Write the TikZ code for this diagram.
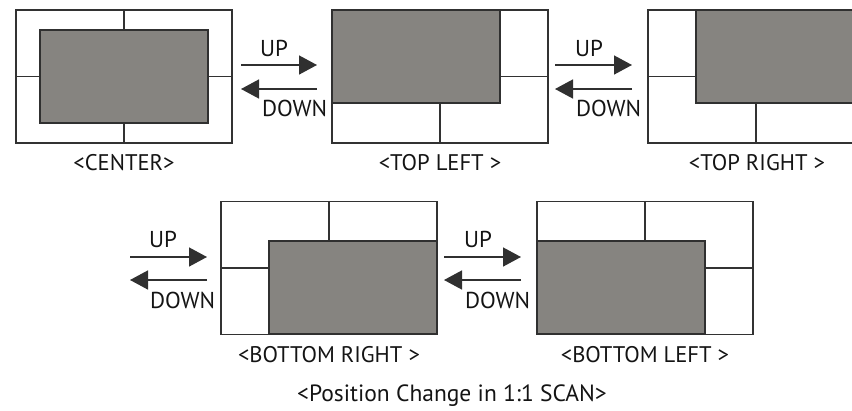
\documentclass[tikz,border=0pt]{standalone}
\usepackage{fontspec}
\setmainfont{PT Sans}
\usepackage{tikz}
\usetikzlibrary{positioning}
\usetikzlibrary{arrows.meta}

\definecolor{picgray}{RGB}{134,132,128}
\definecolor{edgegray}{RGB}{48,48,48}
\definecolor{linegray}{RGB}{50,50,50}
\definecolor{textgray}{RGB}{20,20,20}

\begin{document}
\begin{tikzpicture}[x=1pt, y=-1pt,
                          screenbox/.style={rectangle, draw=linegray, line width=1.5pt, inner sep=0pt, minimum width=216pt, minimum height=133pt},
                          picbox/.style={rectangle, draw=edgegray, fill=picgray, line width=1.8pt, inner sep=0pt, minimum width=168pt, minimum height=93pt},
                          divider/.style={draw=linegray, line width=1.5pt},
                          moveline/.style={draw=edgegray, line width=1.5pt, -{Triangle[length=18pt, width=19pt]}},
                          movetext/.style={inner sep=0pt, anchor=base west, text=textgray, font=\fontsize{23}{27}\selectfont},
                          labeltext/.style={inner sep=0pt, anchor=base, text=textgray, font=\fontsize{22.6}{27}\selectfont},
                          titletext/.style={inner sep=0pt, anchor=base, text=textgray, font=\fontsize{23.5}{28}\selectfont},
                      ]
                      \useasboundingbox (0,0) rectangle (852,410);

                      %Screens
                      \node[screenbox]      (center)        at (124,76.5)   {};
                      \node[screenbox]      (top_left)      at (440,76.5)   {};
                      \node[screenbox]      (top_right)     at (756,76.5)   {};
                      \node[screenbox]      (bottom_right)  at (329,268)    {};
                      \node[screenbox]      (bottom_left)   at (645,268)    {};

                      %Pictures
                      \node[picbox]         (center_pic)        at (center)                                               {};
                      \node[picbox]         (top_left_pic)      [anchor=north west] at (top_left.north west)              {};
                      \node[picbox]         (top_right_pic)     [anchor=north east] at (top_right.north east)             {};
                      \node[picbox]         (bottom_right_pic)  [anchor=south east] at (bottom_right.south east)          {};
                      \node[picbox]         (bottom_left_pic)   [anchor=south west] at (bottom_left.south west)           {};

                      %Dividers
                      \draw[divider] (center.north) -- (center_pic.north);
                      \draw[divider] (center.south) -- (center_pic.south);
                      \draw[divider] (center.west) -- (center_pic.west);
                      \draw[divider] (center.east) -- (center_pic.east);
                      \draw[divider] (top_left.east) -- (top_left_pic.east |- top_left.east);
                      \draw[divider] (top_left.south) -- (top_left.south |- top_left_pic.south);
                      \draw[divider] (top_right.west) -- (top_right_pic.west |- top_right.west);
                      \draw[divider] (top_right.south) -- (top_right.south |- top_right_pic.south);
                      \draw[divider] (bottom_right.north) -- (bottom_right.north |- bottom_right_pic.north);
                      \draw[divider] (bottom_right.west) -- (bottom_right_pic.west |- bottom_right.west);
                      \draw[divider] (bottom_left.north) -- (bottom_left.north |- bottom_left_pic.north);
                      \draw[divider] (bottom_left.east) -- (bottom_left_pic.east |- bottom_left.east);

                      %Names
                      \node[labeltext]      (center_name)        at (124,170)    {<CENTER>};
                      \node[labeltext]      (top_left_name)      at (440,170)    {<TOP LEFT >};
                      \node[labeltext]      (top_right_name)     at (757,170)    {<TOP RIGHT >};
                      \node[labeltext]      (bottom_right_name)  at (329,362)    {<BOTTOM RIGHT >};
                      \node[labeltext]      (bottom_left_name)   at (645,362)    {<BOTTOM LEFT >};
                      \node[titletext]      (title)              at (452,401)    {<Position Change in 1:1 SCAN>};

                      %Arrow ends
                      \coordinate (up_1_a) at (241,65);   \coordinate (up_1_b) at (317,65);
                      \coordinate (down_1_a) at (317,89); \coordinate (down_1_b) at (241,89);
                      \coordinate (up_2_a) at (555,65);   \coordinate (up_2_b) at (632,65);
                      \coordinate (down_2_a) at (632,89); \coordinate (down_2_b) at (555,89);
                      \coordinate (up_3_a) at (130,257);   \coordinate (up_3_b) at (207,257);
                      \coordinate (down_3_a) at (207,280); \coordinate (down_3_b) at (130,280);
                      \coordinate (up_4_a) at (444,257);   \coordinate (up_4_b) at (521,257);
                      \coordinate (down_4_a) at (521,280); \coordinate (down_4_b) at (444,280);

                      %Arrows
                      \draw[moveline] (up_1_a) -- (up_1_b);
                      \draw[moveline] (down_1_a) -- (down_1_b);
                      \draw[moveline] (up_2_a) -- (up_2_b);
                      \draw[moveline] (down_2_a) -- (down_2_b);
                      \draw[moveline] (up_3_a) -- (up_3_b);
                      \draw[moveline] (down_3_a) -- (down_3_b);
                      \draw[moveline] (up_4_a) -- (up_4_b);
                      \draw[moveline] (down_4_a) -- (down_4_b);

                      %Arrow texts
                      \node[movetext]       (up_1)     at (260,56)     {UP};
                      \node[movetext]       (down_1)   at (262,116)    {DOWN};
                      \node[movetext]       (up_2)     at (575,56)     {UP};
                      \node[movetext]       (down_2)   at (576,116)    {DOWN};
                      \node[movetext]       (up_3)     at (149,247)    {UP};
                      \node[movetext]       (down_3)   at (150,308)    {DOWN};
                      \node[movetext]       (up_4)     at (464,247)    {UP};
                      \node[movetext]       (down_4)   at (465,308)    {DOWN};
                  \end{tikzpicture}
\end{document}
